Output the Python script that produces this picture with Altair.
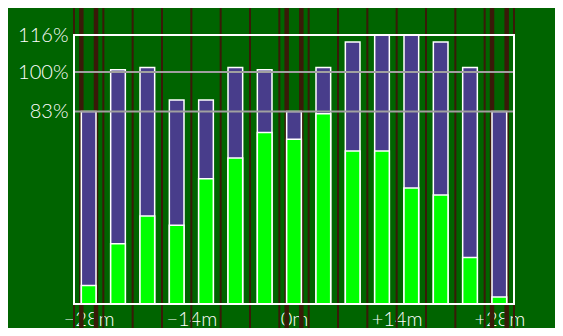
import altair as alt
import pandas as pd

# Data
offsets = [-28, -24, -20, -16, -12, -8, -4, 0, 4, 8, 12, 16, 20, 24, 28]
total_pct = [83, 101, 102, 88, 88, 102, 101, 83, 102, 113, 116, 116, 113, 102, 83]
inner_pct = [8, 26, 38, 34, 54, 63, 74, 71, 82, 66, 66, 50, 47, 20, 3]

thin_lines = [-30, -26, -22, -18, -14, -10, -6, -2, 2, 6, 10, 14, 18, 22, 26, 30]
thick_lines = [-29, -27, -1, 1, 27, 29]
grid_levels = [100, 83]

y_tick_values = [116, 100, 83]
y_tick_labels = ["116%", "100%", "83%"]
x_tick_values = [-28, -14, 0, 14, 28]
x_tick_labels = ["\u221228m", "\u221214m", "0m", "+14m", "+28m"]

W, H = 440, 269
FONT = "Lato"


def label_expr(values, labels):
    expr = "''"
    for v, l in reversed(list(zip(values, labels))):
        expr = f"datum.value == {v} ? '{l}' : ({expr})"
    return expr


bars = pd.DataFrame({"t": offsets, "total": total_pct, "inner": inner_pct})
thin_df = pd.DataFrame({"t": thin_lines})
thick_df = pd.DataFrame({"t": thick_lines})
grid_df = pd.DataFrame({"v": grid_levels})

xscale = alt.Scale(domain=[-30, 30], nice=False, zero=False)
yscale = alt.Scale(domain=[0, 116], nice=False, zero=True)

xaxis = alt.Axis(values=x_tick_values, labelExpr=label_expr(x_tick_values, x_tick_labels),
                 title=None, ticks=False, domain=False, grid=False, labelColor="white",
                 labelFont=FONT, labelFontSize=20, labelFontWeight=300, labelPadding=5,
                 labelFlush=False, labelOverlap=False)
yaxis = alt.Axis(values=y_tick_values, labelExpr=label_expr(y_tick_values, y_tick_labels),
                 title=None, ticks=False, domain=False, grid=False, labelColor="white",
                 labelFont=FONT, labelFontSize=20, labelFontWeight=300, labelPadding=6,
                 labelFlush=False, labelOverlap=False)

brown = "#3a1a08"

thin = alt.Chart(thin_df).mark_rule(color=brown, strokeWidth=2).encode(
    x=alt.X("t:Q", scale=xscale, axis=xaxis),
    y=alt.value(-40), y2=alt.value(H + 50))
thick = alt.Chart(thick_df).mark_rule(color=brown, strokeWidth=4.5).encode(
    x=alt.X("t:Q", scale=xscale),
    y=alt.value(-40), y2=alt.value(H + 50))

base = alt.Chart(bars).transform_calculate(x0="datum.t - 1", x1="datum.t + 1")
outer = base.mark_bar(color="#483d8b", stroke="white", strokeWidth=1.5).encode(
    x=alt.X("x0:Q", scale=xscale), x2="x1:Q",
    y=alt.Y("total:Q", scale=yscale, axis=yaxis), y2=alt.datum(0))
inner = base.mark_bar(color="#00ff00", stroke="white", strokeWidth=1.5).encode(
    x=alt.X("x0:Q", scale=xscale), x2="x1:Q",
    y=alt.Y("inner:Q", scale=yscale), y2=alt.datum(0))

grid = alt.Chart(grid_df).mark_rule(color="#a0a0a0", strokeWidth=2).encode(
    y=alt.Y("v:Q", scale=yscale), x=alt.value(0), x2=alt.value(W))

frame = alt.Chart(grid_df).mark_rect(filled=False, stroke="white", strokeWidth=2).encode(
    x=alt.value(0), x2=alt.value(W), y=alt.value(0), y2=alt.value(H))

chart = alt.layer(thin, thick, outer, inner, grid, frame).properties(
    width=W, height=H,
    autosize=alt.AutoSizeParams(type="none"),
    padding={"left": 66, "top": 27, "right": 41, "bottom": 24},
    background="#006400",
).configure_view(stroke=None)

chart.save("out.html", embed_options={"renderer": "svg", "actions": False})
